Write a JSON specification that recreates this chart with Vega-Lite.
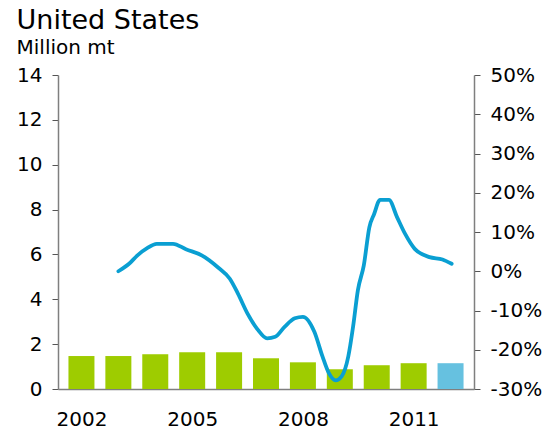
{
  "$schema": "https://vega.github.io/schema/vega-lite/v6.json",
  "width": 416,
  "height": 314,
  "padding": {"left": 16, "top": 7, "right": 8, "bottom": 2},
  "background": "white",
  "title": {
    "text": "United States",
    "subtitle": "Million mt",
    "anchor": "start",
    "frame": "bounds",
    "offset": 6,
    "font": "DejaVu Sans",
    "subtitleFont": "DejaVu Sans",
    "fontSize": 27,
    "subtitleFontSize": 20,
    "fontWeight": "normal",
    "color": "black",
    "subtitleColor": "black",
    "subtitlePadding": 3
  },
  "datasets": {
    "bars": [
      {"year": 2002, "value": 1.47, "kind": "actual"},
      {"year": 2003, "value": 1.47, "kind": "actual"},
      {"year": 2004, "value": 1.55, "kind": "actual"},
      {"year": 2005, "value": 1.64, "kind": "actual"},
      {"year": 2006, "value": 1.64, "kind": "actual"},
      {"year": 2007, "value": 1.37, "kind": "actual"},
      {"year": 2008, "value": 1.19, "kind": "actual"},
      {"year": 2009, "value": 0.88, "kind": "actual"},
      {"year": 2010, "value": 1.06, "kind": "actual"},
      {"year": 2011, "value": 1.15, "kind": "actual"},
      {"year": 2012, "value": 1.15, "kind": "forecast"}
    ],
    "change": [
      {"year": 2003.0, "pct": 0.0},
      {"year": 2003.29, "pct": 0.019},
      {"year": 2003.51, "pct": 0.04},
      {"year": 2003.78, "pct": 0.059},
      {"year": 2004.04, "pct": 0.07},
      {"year": 2004.48, "pct": 0.07},
      {"year": 2004.83, "pct": 0.056},
      {"year": 2005.27, "pct": 0.04},
      {"year": 2005.71, "pct": 0.009},
      {"year": 2006.02, "pct": -0.019},
      {"year": 2006.24, "pct": -0.057},
      {"year": 2006.5, "pct": -0.108},
      {"year": 2006.77, "pct": -0.148},
      {"year": 2007.03, "pct": -0.171},
      {"year": 2007.25, "pct": -0.167},
      {"year": 2007.51, "pct": -0.141},
      {"year": 2007.78, "pct": -0.12},
      {"year": 2008.0, "pct": -0.116},
      {"year": 2008.31, "pct": -0.154},
      {"year": 2008.53, "pct": -0.217},
      {"year": 2008.7, "pct": -0.259},
      {"year": 2008.89, "pct": -0.278},
      {"year": 2009.05, "pct": -0.268},
      {"year": 2009.23, "pct": -0.217},
      {"year": 2009.36, "pct": -0.141},
      {"year": 2009.49, "pct": -0.048},
      {"year": 2009.65, "pct": 0.015},
      {"year": 2009.8, "pct": 0.112},
      {"year": 2009.93, "pct": 0.146},
      {"year": 2010.09, "pct": 0.182},
      {"year": 2010.33, "pct": 0.182},
      {"year": 2010.55, "pct": 0.138},
      {"year": 2010.77, "pct": 0.095},
      {"year": 2011.03, "pct": 0.057},
      {"year": 2011.43, "pct": 0.036},
      {"year": 2011.78, "pct": 0.03},
      {"year": 2012.03, "pct": 0.019}
    ]
  },
  "layer": [
    {
      "data": {"name": "bars"},
      "mark": {"type": "bar", "size": 26},
      "encoding": {
        "x": {
          "field": "year",
          "type": "quantitative",
          "scale": {"domain": [2001.5, 2012.5], "nice": false, "zero": false},
          "axis": {
            "title": null,
            "values": [2002, 2005, 2008, 2011],
            "format": "d",
            "ticks": false,
            "grid": false,
            "domainColor": "#7f7f7f",
            "domainWidth": 1.5,
            "labelPadding": 20,
            "labelFontSize": 20,
            "labelFont": "DejaVu Sans",
            "labelColor": "black"
          }
        },
        "y": {
          "field": "value",
          "type": "quantitative",
          "scale": {"domain": [0, 14], "nice": false},
          "axis": {
            "title": null,
            "orient": "left",
            "values": [0, 2, 4, 6, 8, 10, 12, 14],
            "grid": false,
            "tickSize": 6,
            "tickColor": "#555555",
            "domainColor": "#7f7f7f",
            "domainWidth": 1.5,
            "labelPadding": 10,
            "labelFontSize": 20,
            "labelFont": "DejaVu Sans",
            "labelColor": "black"
          }
        },
        "color": {
          "field": "kind",
          "type": "nominal",
          "scale": {"domain": ["actual", "forecast"], "range": ["#9ECC00", "#66C1E0"]},
          "legend": null
        }
      }
    },
    {
      "data": {"name": "change"},
      "mark": {"type": "line", "interpolate": "monotone", "color": "#0A9FD2", "strokeWidth": 3.8, "strokeCap": "round", "strokeJoin": "round"},
      "encoding": {
        "x": {"field": "year", "type": "quantitative"},
        "y": {
          "field": "pct",
          "type": "quantitative",
          "scale": {"domain": [-0.3, 0.5], "nice": false, "zero": false},
          "axis": {
            "title": null,
            "orient": "right",
            "values": [-0.3, -0.2, -0.1, 0, 0.1, 0.2, 0.3, 0.4, 0.5],
            "labelExpr": "round(datum.value * 100) + '%'",
            "grid": false,
            "tickSize": 6,
            "tickColor": "#555555",
            "domainColor": "#7f7f7f",
            "domainWidth": 1.5,
            "labelPadding": 10,
            "labelFontSize": 20,
            "labelFont": "DejaVu Sans",
            "labelColor": "black"
          }
        }
      }
    }
  ],
  "resolve": {"scale": {"y": "independent"}},
  "config": {"view": {"stroke": null}}
}
